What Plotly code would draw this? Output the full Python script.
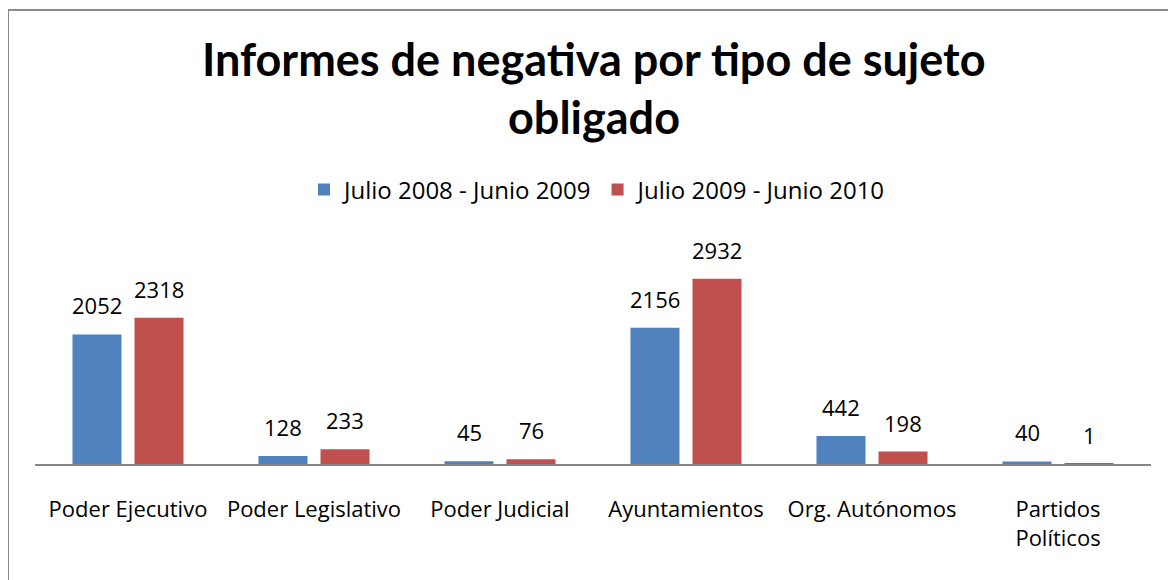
import plotly.graph_objs as go

# Datos del gráfico
categorias = ["Poder Ejecutivo", "Poder Legislativo", "Poder Judicial",
              "Ayuntamientos", "Org. Autónomos", "Partidos<br>Políticos"]
serie_2008 = [2052, 128, 45, 2156, 442, 40]
serie_2009 = [2318, 233, 76, 2932, 198, 1]
nombre_2008 = "Julio 2008 - Junio 2009"
nombre_2009 = "Julio 2009 - Junio 2010"
titulo_1 = "Informes de negativa por tipo de sujeto"
titulo_2 = "obligado"

AZUL = "#4F81BD"
ROJO = "#C0504D"
FUENTE = "Open Sans"

# La página tiene 8 px de margen en el body: se compensa
OFF = 8
W, H = 1176 - OFF, 580 - OFF
L, R, T, B = 35 - OFF, 25, 243 - OFF, 116
PW = W - L - R
PH = H - T - B


def px_x(p):
    # p en píxeles de la página
    return (p - OFF - L) / PW


def px_y(p):
    return (H - B - (p - OFF)) / PH


fig = go.Figure()
fig.add_trace(go.Bar(x=categorias, y=serie_2008, name=nombre_2008,
                     marker_color=AZUL, marker_line_width=0))
fig.add_trace(go.Bar(x=categorias, y=serie_2009, name=nombre_2009,
                     marker_color=ROJO, marker_line_width=0))

# Etiquetas de datos encima de cada barra
anotaciones = []
for serie, desplaz in ((serie_2008, -31), (serie_2009, 31)):
    for cat, val in zip(categorias, serie):
        anotaciones.append(dict(
            x=cat, y=val, xref="x", yref="y", text=str(val), showarrow=False,
            xshift=desplaz, yshift=12, yanchor="bottom",
            font={"family": FUENTE, "size": 22, "color": "black"}))

# Título en dos líneas
for texto, yc in ((titulo_1, 59), (titulo_2, 117)):
    anotaciones.append(dict(x=px_x(594), y=px_y(yc), xref="paper", yref="paper",
                            text=f"<b>{texto}</b>", showarrow=False,
                            xanchor="center", yanchor="middle",
                            font={"family": "Lato", "size": 45, "color": "black"}))

# Borde del área del gráfico
borde = dict(color="#8a8a8a", width=2)
formas = [
    dict(type="line", xref="paper", yref="paper", x0=px_x(8), x1=px_x(8),
         y0=px_y(10), y1=px_y(620), line=borde),
    dict(type="line", xref="paper", yref="paper", x0=px_x(8), x1=px_x(1220),
         y0=px_y(10), y1=px_y(10), line=borde),
]

fig.update_layout(
    width=W, height=H, autosize=False,
    margin={"l": L, "r": R, "t": T, "b": B, "pad": 0},
    paper_bgcolor="white", plot_bgcolor="white",
    font={"family": FUENTE, "size": 22, "color": "black"},
    barmode="group", bargap=0.333, bargroupgap=0.21,
    showlegend=True,
    legend={"orientation": "h", "x": px_x(598), "xanchor": "center",
            "y": px_y(190), "yanchor": "middle",
            "font": {"family": FUENTE, "size": 24, "color": "black"},
            "bgcolor": "rgba(0,0,0,0)"},
    annotations=anotaciones,
    shapes=formas,
    xaxis={"showline": True, "linecolor": "#868686", "linewidth": 2,
           "showgrid": False, "zeroline": False, "ticks": "outside",
           "ticklen": 25, "tickcolor": "rgba(0,0,0,0)",
           "tickfont": {"family": FUENTE, "size": 22, "color": "black"}},
    yaxis={"range": [0, 3500], "visible": False, "showgrid": False,
           "zeroline": False},
)

fig.write_html("out.html")
